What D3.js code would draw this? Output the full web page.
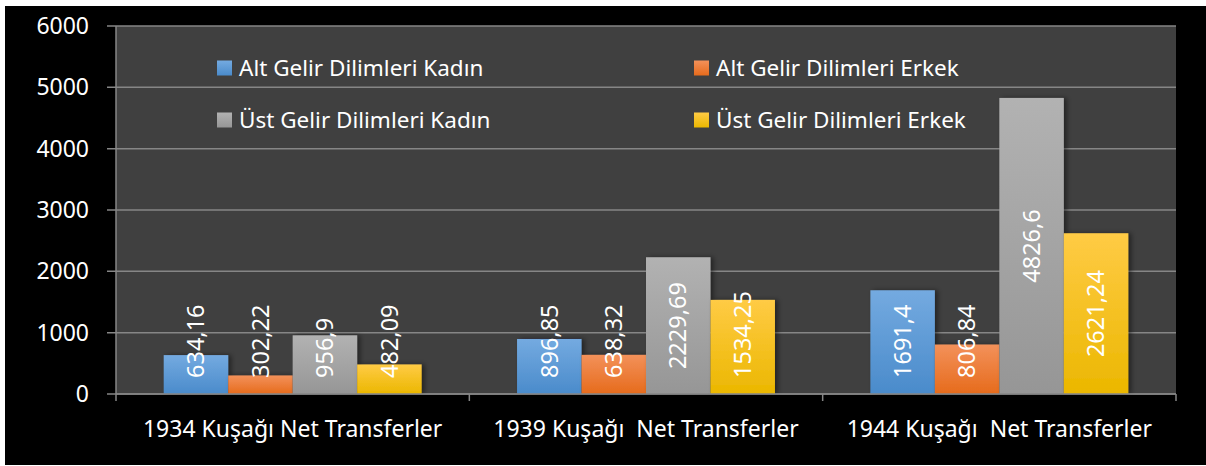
<!DOCTYPE html>
<html>
<head>
<meta charset="utf-8">
<script src="https://cdn.jsdelivr.net/npm/d3@7"></script>
<style>
  body { margin: 0; background: #fff; }
  text { font-family: "Noto Sans", "Open Sans", sans-serif; fill: #fff; }
</style>
</head>
<body>
<div id="container"></div>
<script>
// Chart data
const categories = ["1934 Kuşağı Net Transferler", "1939 Kuşağı  Net Transferler", "1944 Kuşağı  Net Transferler"];
const series = ["Alt Gelir Dilimleri Kadın", "Alt Gelir Dilimleri Erkek", "Üst Gelir Dilimleri Kadın", "Üst Gelir Dilimleri Erkek"];
const altKadin = [634.16, 896.85, 1691.4];
const altErkek = [302.22, 638.32, 806.84];
const ustKadin = [956.9, 2229.69, 4826.6];
const ustErkek = [482.09, 1534.25, 2621.24];
const yTicks = [0, 1000, 2000, 3000, 4000, 5000, 6000];

const values = [altKadin, altErkek, ustKadin, ustErkek];
const colors = [
    ["#74aae0", "#4a8bcb"],
    ["#f3915a", "#e66b1c"],
    ["#b2b2b2", "#969696"],
    ["#ffcb45", "#ebb700"]
];

const width = 1206, height = 466;
const plot = {left: 116, right: 1176, top: 26, bottom: 394};

const svg = d3.select("#container")
    .append("svg")
    .attr("width", width)
    .attr("height", height);

const defs = svg.append("defs");
colors.forEach((c, i) => {
    const g = defs.append("linearGradient")
        .attr("id", "grad" + i)
        .attr("x1", 0).attr("y1", 0).attr("x2", 0).attr("y2", 1);
    g.append("stop").attr("offset", "0%").attr("stop-color", c[0]);
    g.append("stop").attr("offset", "100%").attr("stop-color", c[1]);
});
defs.append("filter")
    .attr("id", "shadow")
    .attr("x", "-20%").attr("y", "-20%").attr("width", "150%").attr("height", "140%")
    .append("feDropShadow")
    .attr("dx", 3).attr("dy", 0)
    .attr("stdDeviation", 2.5)
    .attr("flood-color", "#000")
    .attr("flood-opacity", 0.45);

// black chart area and grey plot area
svg.append("rect")
    .attr("x", 5).attr("y", 6)
    .attr("width", width - 5).attr("height", height - 7)
    .attr("fill", "#000");
svg.append("rect")
    .attr("x", plot.left).attr("y", plot.top)
    .attr("width", plot.right - plot.left).attr("height", plot.bottom - plot.top)
    .attr("fill", "#404040");

// scales
const x0 = d3.scaleBand()
    .domain(categories)
    .range([plot.left, plot.right]);
const x1 = d3.scaleBand()
    .domain(d3.range(series.length))
    .range([0, x0.bandwidth()])
    .paddingOuter(0.74);
const y = d3.scaleLinear()
    .domain([0, 6000])
    .range([plot.bottom, plot.top]);

// gridlines
svg.append("g")
    .selectAll("line")
    .data(yTicks)
    .enter()
    .append("line")
    .attr("x1", plot.left - 9)
    .attr("x2", plot.right)
    .attr("y1", d => y(d))
    .attr("y2", d => y(d))
    .attr("stroke", "#868686")
    .attr("stroke-width", 1.5);

// left axis line
svg.append("line")
    .attr("x1", plot.left).attr("x2", plot.left)
    .attr("y1", plot.top).attr("y2", plot.bottom)
    .attr("stroke", "#868686").attr("stroke-width", 1.5);

// y tick labels
svg.append("g")
    .attr("font-size", 23)
    .attr("text-anchor", "end")
    .selectAll("text")
    .data(yTicks)
    .enter()
    .append("text")
    .attr("x", 89)
    .attr("y", d => y(d))
    .attr("dy", "0.35em")
    .text(d => d);

// bars
const rows = [];
categories.forEach((cat, ci) => {
    values.forEach((vals, si) => rows.push({cat, si, v: vals[ci]}));
});

svg.append("g")
    .selectAll("rect")
    .data(rows)
    .enter()
    .append("rect")
    .attr("x", d => x0(d.cat) + x1(d.si))
    .attr("y", d => y(d.v))
    .attr("width", x1.bandwidth())
    .attr("height", d => y(0) - y(d.v))
    .attr("fill", d => `url(#grad${d.si})`)
    .attr("filter", "url(#shadow)");

// bottom axis and category ticks
svg.append("line")
    .attr("x1", plot.left).attr("x2", plot.right)
    .attr("y1", plot.bottom).attr("y2", plot.bottom)
    .attr("stroke", "#868686").attr("stroke-width", 1.5);
svg.append("g")
    .selectAll("line")
    .data(categories.concat([null]))
    .enter()
    .append("line")
    .attr("x1", (d, i) => plot.left + i * x0.step())
    .attr("x2", (d, i) => plot.left + i * x0.step())
    .attr("y1", plot.bottom)
    .attr("y2", plot.bottom + 7)
    .attr("stroke", "#868686").attr("stroke-width", 1.5);

// category labels
svg.append("g")
    .attr("font-size", 23)
    .attr("text-anchor", "middle")
    .selectAll("text")
    .data(categories)
    .enter()
    .append("text")
    .attr("x", d => x0(d) + x0.bandwidth() / 2)
    .attr("y", 437)
    .style("white-space", "pre")
    .text(d => d);

// value labels, rotated, centred in bar but kept above the base
const labels = svg.append("g")
    .attr("font-size", 23.5)
    .attr("text-anchor", "middle")
    .selectAll("text")
    .data(rows)
    .enter()
    .append("text")
    .text(d => String(d.v).replace(".", ","));

labels.each(function(d) {
    const len = this.getComputedTextLength();
    const cx = x0(d.cat) + x1(d.si) + x1.bandwidth() / 2;
    const cy = Math.min((y(d.v) + y(0)) / 2, y(0) - 16 - len / 2);
    d3.select(this)
        .attr("transform", `translate(${cx},${cy}) rotate(-90)`)
        .attr("dy", "0.35em");
});

// legend
const legend = svg.append("g")
    .attr("font-size", 22.5)
    .selectAll("g")
    .data(series)
    .enter()
    .append("g")
    .attr("transform", (d, i) => `translate(${i % 2 ? 694 : 217},${i < 2 ? 68 : 120})`);
legend.append("rect")
    .attr("x", 0).attr("y", -7.5)
    .attr("width", 15).attr("height", 15)
    .attr("fill", (d, i) => `url(#grad${i})`);
legend.append("text")
    .attr("x", 22)
    .attr("dy", "0.35em")
    .text(d => d);
</script>
</body>
</html>
